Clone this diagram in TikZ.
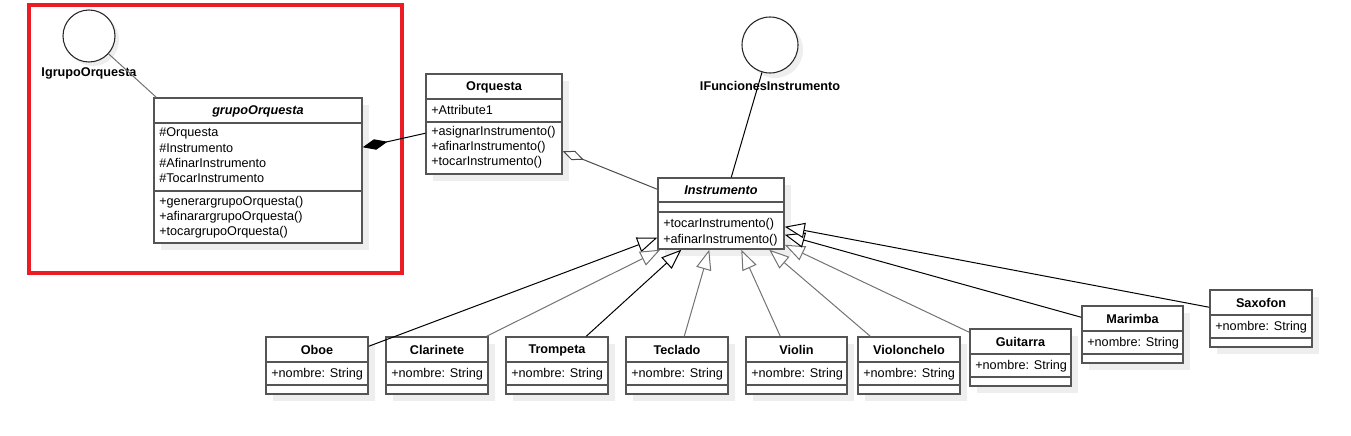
\documentclass[tikz,border=0pt]{standalone}
\usepackage{fontspec}
\setmainfont{Liberation Sans}
\usetikzlibrary{arrows.meta,calc,fit}
\definecolor{frame}{HTML}{ED1C24}
\definecolor{boxc}{HTML}{555555}
\definecolor{shad}{HTML}{EEEEEE}
\tikzset{
  clsbox/.style={draw=boxc, line width=1.1pt, fill=white, inner sep=0pt},
  divl/.style={draw=boxc, line width=1.1pt},
  ttl/.style={font=\fontsize{9.5}{11}\selectfont\bfseries, inner sep=0pt},
  ittl/.style={font=\fontsize{9.5}{11}\selectfont\bfseries\itshape, inner sep=0pt},
  txt/.style={font=\fontsize{9.5}{11}\selectfont, anchor=west, inner sep=0pt},
  iface/.style={circle, draw=black!85, line width=0.8pt, fill=white, inner sep=0pt},
  ilabel/.style={font=\fontsize{9.5}{11}\selectfont\bfseries, inner sep=0pt},
  gen/.style={line width=0.75pt, -{Triangle[open, fill=white, length=15pt, width=11.5pt]}},
  genb/.style={gen, draw=black},
  geng/.style={gen, draw=black!55},
}
\newcommand\smallcls[5]{%
  \fill[shad] (#2+7,#3+7) rectangle (#4+7,#3+64);
  \node[clsbox, fit={(#2,#3)(#4,#3+57)}] (#1) {};
  \draw[divl] (#2,#3+25) -- (#4,#3+25);
  \draw[divl] (#2,#3+48) -- (#4,#3+48);
  \node[ttl] at ({(#2+#4)/2},#3+13) {#5};
  \node[txt] at (#2+5,#3+37) {+nombre: String};
}
\begin{document}
\begin{tikzpicture}[x=0.75pt,y=-0.75pt]
\useasboundingbox (0,0) rectangle (1351,435);
\fill[white] (0,0) rectangle (1351,435);

% red frame
\draw[frame, line width=3pt] (29,5) rectangle (402,273);

% shadows of big classes
\fill[shad] (161,105) rectangle (369,250);
\fill[shad] (433,81) rectangle (569,181);
\fill[shad] (665,185) rectangle (791,256);
\fill[shad] (93,40) circle[radius=26];
\fill[shad] (775,50) circle[radius=28];

% interfaces
\node[iface, minimum size=39pt] (igo) at (89,36) {};
\node[ilabel] (igolbl) at (89,73) {IgrupoOrquesta};
\node[iface, minimum size=42pt] (ifi) at (770,45) {};
\node[ilabel] (ifilbl) at (770,86) {IFuncionesInstrumento};

% grupoOrquesta
\node[clsbox, fit={(154,98)(362,243)}] (grupo) {};
\draw[divl] (154,123) -- (362,123);
\draw[divl] (154,191) -- (362,191);
\node[ittl] at (258,111) {grupoOrquesta};
\node[txt] at (159,133) {\#Orquesta};
\node[txt] at (159,148) {\#Instrumento};
\node[txt] at (159,163) {\#AfinarInstrumento};
\node[txt] at (159,178) {\#TocarInstrumento};
\node[txt] at (159,202) {+generargrupoOrquesta()};
\node[txt] at (159,217) {+afinarargrupoOrquesta()};
\node[txt] at (159,232) {+tocargrupoOrquesta()};

% Orquesta
\node[clsbox, fit={(426,74)(562,174)}] (orq) {};
\draw[divl] (426,99) -- (562,99);
\draw[divl] (426,122) -- (562,122);
\node[ttl] at (494,87) {Orquesta};
\node[txt] at (431,110) {+Attribute1};
\node[txt] at (431,132) {+asignarInstrumento()};
\node[txt] at (431,147) {+afinarInstrumento()};
\node[txt] at (431,162) {+tocarInstrumento()};

% Instrumento
\node[clsbox, fit={(658,178)(784,249)}] (instr) {};
\draw[divl] (658,202) -- (784,202);
\draw[divl] (658,212) -- (784,212);
\node[ittl] at (721,190) {Instrumento};
\node[txt] at (663,224) {+tocarInstrumento()};
\node[txt] at (663,240) {+afinarInstrumento()};

% subclasses
\smallcls{oboe}{266}{337}{368}{Oboe}
\smallcls{clar}{386}{337}{488}{Clarinete}
\smallcls{trom}{506}{337}{608}{Trompeta}
\smallcls{tecl}{626}{337}{728}{Teclado}
\smallcls{viol}{746}{337}{847}{Violin}
\smallcls{vchl}{858}{337}{960}{Violonchelo}
\smallcls{guit}{970}{329}{1071}{Guitarra}
\smallcls{mari}{1082}{306}{1183}{Marimba}
\smallcls{saxo}{1210}{290}{1312}{Saxofon}

% interface realizations
\draw[black!55, line width=0.75pt] (igo) -- ($(grupo.north west)+(3,0)$);
\draw[black, line width=0.75pt] (ifi) -- ($(instr.north west)+(74,0)$);

% composition and aggregation
\draw[line width=0.75pt, {Diamond[fill=black, length=19pt, width=8pt]}-] ($(grupo.north east)+(0,50)$) -- ($(orq.north west)+(0,60)$);
\draw[black!70, line width=0.75pt, {Diamond[open, fill=white, length=17pt, width=7.5pt]}-] ($(orq.north east)+(0,78)$) -- ($(instr.north west)+(0,12)$);

% generalizations
\draw[genb] ($(oboe.north east)+(0,10)$) -- ($(instr.south west)+(0,-12)$);
\draw[geng] ($(clar.north east)+(-2,0)$) -- ($(instr.south west)+(3,0)$);
\draw[genb] ($(trom.north west)+(81,0)$) -- ($(instr.south west)+(24,0)$);
\draw[geng] ($(tecl.north west)+(59,0)$) -- ($(instr.south west)+(52,0)$);
\draw[geng] ($(viol.north west)+(35,0)$) -- ($(instr.south west)+(84,0)$);
\draw[geng] ($(vchl.north west)+(13,0)$) -- ($(instr.south west)+(112,0)$);
\draw[geng] ($(guit.north west)+(0,4)$) -- ($(instr.south east)+(0,-5)$);
\draw[genb] ($(mari.north west)+(0,12)$) -- ($(instr.south east)+(0,-15)$);
\draw[genb] ($(saxo.north west)+(0,18)$) -- ($(instr.south east)+(0,-23)$);
\end{tikzpicture}
\end{document}
